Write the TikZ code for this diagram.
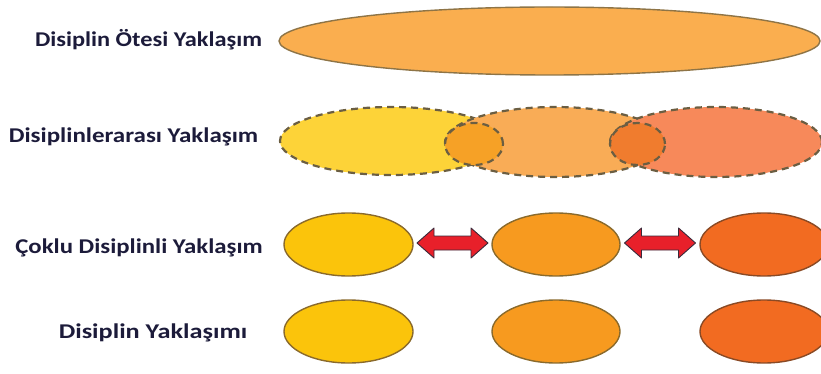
\documentclass[tikz,border=0pt]{standalone}
\usepackage{fontspec}
\usepackage{graphicx}
\setmainfont{Carlito}
\usetikzlibrary{shapes.geometric,calc}
\definecolor{txt}{HTML}{1C1B3A}
\definecolor{topfill}{HTML}{FAAE4F}
\definecolor{topline}{HTML}{8E7446}
\definecolor{ayel}{HTML}{FDD338}
\definecolor{aorg}{HTML}{F9AC56}
\definecolor{ared}{HTML}{F7895A}
\definecolor{ov1}{HTML}{F6A126}
\definecolor{ov2}{HTML}{F07C2E}
\definecolor{dashc}{HTML}{6B5E42}
\definecolor{byel}{HTML}{FBC40B}
\definecolor{borg}{HTML}{F79A1F}
\definecolor{bred}{HTML}{F26B21}
\definecolor{bline}{HTML}{8A6A2C}
\definecolor{bline2}{HTML}{8A4A25}
\definecolor{arrred}{HTML}{E8202A}
\definecolor{arrline}{HTML}{3A2A3A}
\newcommand\hstretch[2]{\scalebox{#1}[1]{#2}}
\begin{document}
\begin{tikzpicture}[x=1pt,y=-1pt,
  lbl/.style={text=txt,font=\fontsize{21}{24}\selectfont\bfseries,inner sep=0},
  ell/.style={ellipse,inner sep=0,line width=1.4pt},
  dashell/.style={ell,draw=dashc,dash pattern=on 7pt off 5pt,line width=2.2pt},
  solidell/.style={ell,draw=bline},
  arrowstyle/.style={fill=arrred,draw=arrline,line width=0.9pt,line join=round}
]
\useasboundingbox (0,0) rectangle (821,374);
\clip (0,0) rectangle (821,374);
% labels
\node[lbl] (t1) at (148.5,40) {\hstretch{1.16}{Disiplin Ötesi Yaklaşım}};
\node[lbl] (t2) at (133.5,137) {\hstretch{1.19}{Disiplinlerarası Yaklaşım}};
\node[lbl] (t3) at (139,248) {\hstretch{1.18}{Çoklu Disiplinli Yaklaşım}};
\node[lbl] (t4) at (153,333) {\hstretch{1.25}{Disiplin Yaklaşımı}};
% row 1
\node[ell,fill=topfill,draw=topline,minimum width=541pt,minimum height=68pt] (top) at (549.5,41) {};
% row 2
\node[dashell,fill=ayel,minimum width=223pt,minimum height=68pt] (r2a) at (391.5,141) {};
\node[dashell,fill=aorg,minimum width=220pt,minimum height=70pt] (r2b) at (555,142) {};
\node[dashell,fill=ared,minimum width=212pt,minimum height=70pt] (r2c) at (716,142) {};
\node[dashell,fill=ov1,minimum width=58pt,minimum height=42pt] (o1) at (474,144) {};
\node[dashell,fill=ov2,minimum width=55pt,minimum height=42pt] (o2) at (637.5,144) {};
% row 3
\node[solidell,fill=byel,minimum width=129pt,minimum height=63pt] (r3a) at (348.5,244.5) {};
\node[solidell,fill=borg,minimum width=128pt,minimum height=63pt] (r3b) at (556,244.5) {};
\node[solidell,fill=bred,draw=bline2,minimum width=128pt,minimum height=63pt] (r3c) at (764,244.5) {};
% row 4
\node[solidell,fill=byel,minimum width=129pt,minimum height=63pt] (r4a) at (348.5,331.5) {};
\node[solidell,fill=borg,minimum width=128pt,minimum height=63pt] (r4b) at (556,331.5) {};
\node[solidell,fill=bred,draw=bline2,minimum width=128pt,minimum height=63pt] (r4c) at (764,331.5) {};
% double arrows
\coordinate (m1) at ($(r3a.east)!0.5!(r3b.west)+(0,-1.5)$);
\coordinate (m2) at ($(r3b.east)!0.5!(r3c.west)+(0,-1.5)$);
\foreach \m in {m1,m2}{
  \draw[arrowstyle] (\m) ++(-35.5,0) -- ++(17,-15) -- ++(0,8) -- ++(37,0) -- ++(0,-8)
    -- ++(17,15) -- ++(-17,15) -- ++(0,-8) -- ++(-37,0) -- ++(0,8) -- cycle;
}
\end{tikzpicture}
\end{document}
